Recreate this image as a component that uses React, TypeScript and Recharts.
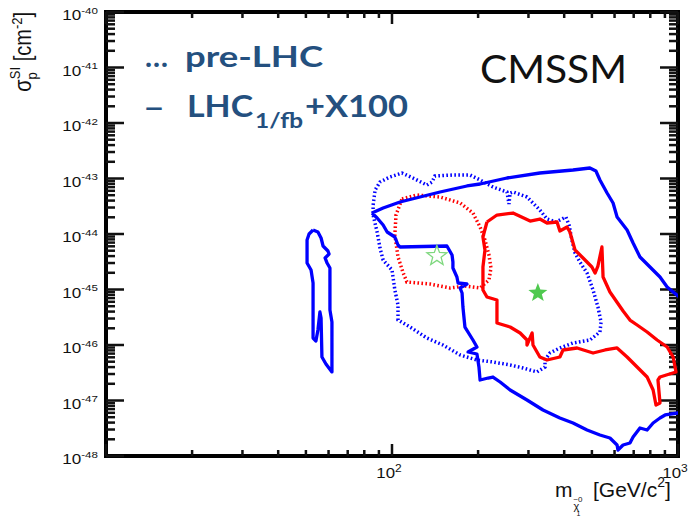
import React from 'react';
import { ScatterChart, Scatter, XAxis, YAxis, ReferenceArea, ReferenceLine } from 'recharts';

// all values are log10: x = log10(m / GeV), y = log10(sigma / cm^2)
const xDecades = [1, 2, 3];
const yDecades = [-48, -47, -46, -45, -44, -43, -42, -41, -40];
const minorFactors = [2, 3, 4, 5, 6, 7, 8, 9];
const xLabelled = [2, 3];

// LHC_1/fb + X100, solid blue (island at low mass)
const lhcBlueIsland: [number, number][] = [
  [1.724, -43.928], [1.741, -43.964], [1.752, -44.072], [1.759, -44.216], [1.776, -44.306],
  [1.78, -44.36], [1.766, -44.432], [1.773, -44.523], [1.783, -44.613], [1.783, -45.369],
  [1.79, -45.586], [1.79, -46.486], [1.769, -46.342], [1.755, -46.216], [1.752, -45.514],
  [1.748, -45.405], [1.741, -45.73], [1.734, -45.928], [1.724, -45.874], [1.724, -44.883],
  [1.717, -44.649], [1.703, -44.523], [1.703, -44.108], [1.71, -44.0], [1.724, -43.928],
];

// LHC_1/fb + X100, solid blue (main region)
const lhcBlue: [number, number][] = [
  [1.93, -43.622], [1.969, -43.532], [2.028, -43.423], [2.098, -43.333], [2.168, -43.243],
  [2.262, -43.135], [2.308, -43.099], [2.402, -42.991], [2.517, -42.901], [2.633, -42.847],
  [2.692, -42.811], [2.713, -42.865], [2.727, -43.027], [2.752, -43.261], [2.773, -43.441],
  [2.787, -43.694], [2.822, -43.928], [2.843, -44.162], [2.867, -44.414], [2.902, -44.595],
  [2.937, -44.775], [2.962, -44.955], [3.0, -45.117], [3.077, -45.279], [3.077, -47.081],
  [3.0, -47.225], [2.955, -47.261], [2.937, -47.315], [2.913, -47.405], [2.892, -47.532],
  [2.867, -47.495], [2.843, -47.658], [2.832, -47.766], [2.808, -47.802], [2.79, -47.892],
  [2.787, -47.802], [2.762, -47.676], [2.727, -47.622], [2.682, -47.532], [2.633, -47.405],
  [2.587, -47.315], [2.528, -47.171], [2.472, -46.991], [2.413, -46.811], [2.378, -46.667],
  [2.353, -46.577], [2.336, -46.595], [2.308, -46.631], [2.304, -46.396], [2.297, -46.162],
  [2.266, -46.126], [2.297, -46.036], [2.283, -45.91], [2.255, -45.676], [2.248, -45.315],
  [2.245, -45.063], [2.238, -44.973], [2.262, -44.901], [2.231, -44.883], [2.227, -44.775],
  [2.213, -44.613], [2.213, -44.505], [2.21, -44.378], [2.192, -44.216], [2.028, -44.234],
  [2.021, -44.198], [2.01, -44.054], [1.983, -43.964], [1.969, -43.838], [1.948, -43.712],
  [1.93, -43.622],
];

// pre-LHC, dotted blue
const preBlue: [number, number][] = [
  [1.934, -43.477], [1.941, -43.207], [1.958, -43.063], [1.993, -42.973], [2.035, -42.901],
  [2.073, -42.991], [2.122, -43.117], [2.14, -43.063], [2.15, -42.955], [2.213, -42.937],
  [2.273, -42.937], [2.308, -43.027], [2.353, -43.153], [2.402, -43.243], [2.409, -43.459],
  [2.413, -43.261], [2.423, -43.243], [2.472, -43.333], [2.517, -43.568], [2.542, -43.73],
  [2.573, -43.784], [2.608, -43.694], [2.619, -43.838], [2.629, -44.108], [2.64, -44.342],
  [2.657, -44.505], [2.682, -44.703], [2.703, -45.009], [2.72, -45.315], [2.731, -45.586],
  [2.727, -45.766], [2.692, -45.91], [2.633, -45.964], [2.587, -46.054], [2.552, -46.144],
  [2.535, -46.27], [2.535, -46.396], [2.507, -46.486], [2.458, -46.414], [2.413, -46.36],
  [2.353, -46.306], [2.297, -46.27], [2.238, -46.18], [2.178, -46.0], [2.122, -45.874],
  [2.063, -45.676], [2.021, -45.55], [2.021, -45.279], [2.01, -45.009], [2.0, -44.649],
  [1.969, -44.468], [1.958, -44.252], [1.948, -43.964], [1.934, -43.658], [1.934, -43.477],
];

// pre-LHC, dotted red
const preRed: [number, number][] = [
  [2.035, -43.369], [2.087, -43.297], [2.168, -43.333], [2.238, -43.441], [2.283, -43.622],
  [2.308, -43.874], [2.325, -44.108], [2.339, -44.378], [2.346, -44.613], [2.339, -44.829],
  [2.308, -44.973], [2.255, -44.937], [2.203, -44.973], [2.133, -44.901], [2.052, -44.865],
  [2.038, -44.685], [2.021, -44.414], [2.01, -44.018], [2.014, -43.658], [2.035, -43.369],
];

// LHC_1/fb + X100, solid red
const lhcRed: [number, number][] = [
  [2.332, -43.784], [2.367, -43.658], [2.423, -43.622], [2.483, -43.766], [2.517, -43.73],
  [2.542, -43.802], [2.577, -43.784], [2.587, -43.946], [2.612, -43.874], [2.622, -43.964],
  [2.64, -44.288], [2.668, -44.432], [2.699, -44.595], [2.71, -44.703], [2.72, -44.577],
  [2.734, -44.234], [2.738, -44.775], [2.762, -45.045], [2.808, -45.387], [2.832, -45.55],
  [2.857, -45.64], [2.892, -45.766], [2.927, -45.91], [2.962, -46.036], [2.983, -46.216],
  [2.993, -46.486], [2.937, -46.577], [2.93, -46.631], [2.937, -47.045], [2.923, -47.081],
  [2.913, -46.811], [2.892, -46.577], [2.857, -46.396], [2.822, -46.216], [2.787, -46.054],
  [2.745, -46.09], [2.703, -46.144], [2.647, -46.054], [2.598, -46.09], [2.587, -46.216],
  [2.542, -46.27], [2.517, -46.216], [2.493, -46.0], [2.49, -45.784], [2.472, -46.0],
  [2.472, -45.91], [2.448, -45.784], [2.413, -45.676], [2.367, -45.604], [2.367, -45.189],
  [2.332, -45.135], [2.318, -45.009], [2.318, -44.595], [2.325, -44.288], [2.318, -44.054],
  [2.332, -43.784],
];

const bestFitLhc: [number, number][] = [[2.51, -45.063]];
const bestFitPre: [number, number][] = [[2.157, -44.396]];

const toPts = (arr: [number, number][]) => arr.map(([x, y]) => ({ x, y }));

const withMinors = (decades: number[]) => {
  const out: number[] = [];
  decades.forEach((d, i) => {
    out.push(d);
    if (i < decades.length - 1) minorFactors.forEach((f) => out.push(d + Math.log10(f)));
  });
  return out;
};
const xTicks = withMinors(xDecades);
const yTicks = withMinors(yDecades);
const X_MIN = xDecades[0];
const X_MAX = xDecades[xDecades.length - 1];
const Y_MIN = yDecades[0];
const Y_MAX = yDecades[yDecades.length - 1];

const W = 688;
const H = 516;
const MARGIN = { top: 12, right: 10, bottom: 30, left: 26 };
const Y_AXIS_W = 80;
const X_AXIS_H = 30;
const PLOT_W = W - MARGIN.left - MARGIN.right - Y_AXIS_W;
const PLOT_H = H - MARGIN.top - MARGIN.bottom - X_AXIS_H;
// tick lengths expressed in axis units (pixels -> data)
const pxX = (px: number) => (px * (X_MAX - X_MIN)) / PLOT_W;
const pxY = (px: number) => (px * (Y_MAX - Y_MIN)) / PLOT_H;

type Seg = { key: string; a: { x: number; y: number }; b: { x: number; y: number } };
const tickSegments: Seg[] = [
  ...yTicks.flatMap((v) => {
    const len = pxX(Number.isInteger(v) ? 18 : 9);
    return [
      { key: `l${v}`, a: { x: X_MIN, y: v }, b: { x: X_MIN + len, y: v } },
      { key: `r${v}`, a: { x: X_MAX - len, y: v }, b: { x: X_MAX, y: v } },
    ];
  }),
  ...xTicks.flatMap((v) => {
    const len = pxY(Number.isInteger(v) ? 12 : 6);
    return [
      { key: `b${v}`, a: { x: v, y: Y_MIN }, b: { x: v, y: Y_MIN + len } },
      { key: `t${v}`, a: { x: v, y: Y_MAX - len }, b: { x: v, y: Y_MAX } },
    ];
  }),
];

const LABEL_FONT = '"Liberation Sans", Arial, sans-serif';

const LeftLabel = (props: any) => {
  const v = props.payload.value;
  if (!Number.isInteger(v)) return <g />;
  return (
    <g transform={`translate(${Number(props.x) - 8},${Number(props.y) + 8}) scale(1.22,1)`}>
      <text textAnchor="end" fontSize={14} fontFamily={LABEL_FONT} fill="#111">
        10<tspan dy={-6.5} fontSize={9.5}>{v}</tspan>
      </text>
    </g>
  );
};

const BottomLabel = (props: any) => {
  const v = props.payload.value;
  if (!xLabelled.includes(v)) return <g />;
  return (
    <g transform={`translate(${Number(props.x) - 3},${Number(props.y) + 22}) scale(1.2,1)`}>
      <text textAnchor="middle" fontSize={14} fontFamily={LABEL_FONT} fill="#111">
        10<tspan dy={-6} fontSize={10}>{v}</tspan>
      </text>
    </g>
  );
};

const starPoints = (cx: number, cy: number, R: number) => {
  const pts: string[] = [];
  for (let i = 0; i < 10; i++) {
    const r = i % 2 === 0 ? R : R * 0.42;
    const a = -Math.PI / 2 + (i * Math.PI) / 5;
    pts.push(`${cx + r * Math.cos(a)},${cy + r * Math.sin(a)}`);
  }
  return pts.join(' ');
};

const NoShape = () => <g />;

const BLUE = '#0000ff';
const RED = '#ff0000';
const LEGEND = '#24507f';

export default function App() {
  return (
    <div style={{ position: 'fixed', left: 0, top: 0, width: W, height: H, background: '#fff' }}>
      <ScatterChart width={W} height={H} margin={MARGIN}>
        <XAxis xAxisId="b" type="number" dataKey="x" domain={[X_MIN, X_MAX]} ticks={xTicks} height={X_AXIS_H}
          interval={0} tickSize={0} tickMargin={0} tickLine={false} allowDataOverflow
          axisLine={false} tick={(p: any) => <BottomLabel {...p} />} />
        <YAxis yAxisId="l" type="number" dataKey="y" domain={[Y_MIN, Y_MAX]} ticks={yTicks} width={Y_AXIS_W}
          interval={0} tickSize={0} tickMargin={0} tickLine={false} allowDataOverflow
          axisLine={false} tick={(p: any) => <LeftLabel {...p} />} />
        <Scatter xAxisId="b" yAxisId="l" data={toPts(preBlue)} fill={BLUE} shape={NoShape} lineType="joint"
          line={{ stroke: BLUE, strokeWidth: 3.5, strokeDasharray: '1.6 2.4', fill: 'none' }} isAnimationActive={false} />
        <Scatter xAxisId="b" yAxisId="l" data={toPts(preRed)} fill={RED} shape={NoShape} lineType="joint"
          line={{ stroke: RED, strokeWidth: 3.5, strokeDasharray: '1.6 2.4', fill: 'none' }} isAnimationActive={false} />
        <Scatter xAxisId="b" yAxisId="l" data={toPts(lhcBlueIsland)} fill={BLUE} shape={NoShape} lineType="joint"
          line={{ stroke: BLUE, strokeWidth: 3.3, strokeLinejoin: 'round', fill: 'none' }} isAnimationActive={false} />
        <Scatter xAxisId="b" yAxisId="l" data={toPts(lhcBlue)} fill={BLUE} shape={NoShape} lineType="joint"
          line={{ stroke: BLUE, strokeWidth: 3.3, strokeLinejoin: 'round', fill: 'none' }} isAnimationActive={false} />
        <Scatter xAxisId="b" yAxisId="l" data={toPts(lhcRed)} fill={RED} shape={NoShape} lineType="joint"
          line={{ stroke: RED, strokeWidth: 3.3, strokeLinejoin: 'round', fill: 'none' }} isAnimationActive={false} />
        <Scatter xAxisId="b" yAxisId="l" data={toPts(bestFitPre)} isAnimationActive={false}
          shape={(p: any) => (
            <polygon points={starPoints(p.cx, p.cy, 10.5)} fill="none" stroke="#7fd87f" strokeWidth={1.3} />
          )} />
        <Scatter xAxisId="b" yAxisId="l" data={toPts(bestFitLhc)} isAnimationActive={false}
          shape={(p: any) => <polygon points={starPoints(p.cx, p.cy, 10)} fill="#4fc94f" />} />
        {tickSegments.map((s) => (
          <ReferenceLine key={s.key} xAxisId="b" yAxisId="l" segment={[s.a, s.b]} ifOverflow="visible"
            stroke="#111" strokeWidth={2.5} />
        ))}
        <ReferenceArea xAxisId="b" yAxisId="l" x1={X_MIN} x2={X_MAX} y1={Y_MIN} y2={Y_MAX}
          fill="none" fillOpacity={0} stroke="#000" strokeWidth={4} />
      </ScatterChart>

      <svg width={W} height={H} style={{ position: 'absolute', left: 0, top: 0, pointerEvents: 'none' }}>
        {/* y axis title */}
        <text transform="translate(31,12) scale(1.15,1) rotate(-90)" textAnchor="end" fontSize={20}
          fontFamily={LABEL_FONT} fill="#111">
          σ<tspan dy={5} fontSize={13}>p</tspan>
          <tspan dx={-7} dy={-15} fontSize={13}>SI</tspan>
          <tspan dy={10}> [cm</tspan>
          <tspan dy={-8} fontSize={13}>-2</tspan>
          <tspan dy={8}>]</tspan>
        </text>

        {/* x axis title */}
        <text x={555} y={497} fontSize={21} fontFamily={LABEL_FONT} fill="#111">
          m<tspan dx={1} dy={13} fontSize={11}>χ</tspan>
          <tspan dx={-6} dy={-8} fontSize={8}>~0</tspan>
          <tspan dx={-6} dy={14} fontSize={7}>1</tspan>
        </text>
        <text x={593} y={497} fontSize={21} fontFamily={LABEL_FONT} fill="#111">
          [GeV/c<tspan dy={-10} fontSize={14}>2</tspan>
          <tspan dy={10}>]</tspan>
        </text>

        {/* legend */}
        <g fontFamily="Lato, 'Open Sans', sans-serif" fontWeight={700} fill={LEGEND}>
          <text x={145} y={67} fontSize={29} textLength={23} lengthAdjust="spacingAndGlyphs">…</text>
          <text x={185} y={67} fontSize={29} textLength={138} lengthAdjust="spacingAndGlyphs">pre-LHC</text>
          <text x={143} y={117} fontSize={29} textLength={22} lengthAdjust="spacingAndGlyphs">–</text>
          <text x={187} y={117} fontSize={30} textLength={66} lengthAdjust="spacingAndGlyphs">LHC</text>
          <text x={255} y={128} fontSize={20} textLength={48} lengthAdjust="spacingAndGlyphs">1/fb</text>
          <text x={305} y={117} fontSize={30} textLength={103} lengthAdjust="spacingAndGlyphs">+X100</text>
        </g>

        <text x={480} y={83} fontSize={39} fontFamily="Lato, 'Open Sans', sans-serif" fill="#111"
          textLength={147} lengthAdjust="spacingAndGlyphs">CMSSM</text>
      </svg>
    </div>
  );
}
